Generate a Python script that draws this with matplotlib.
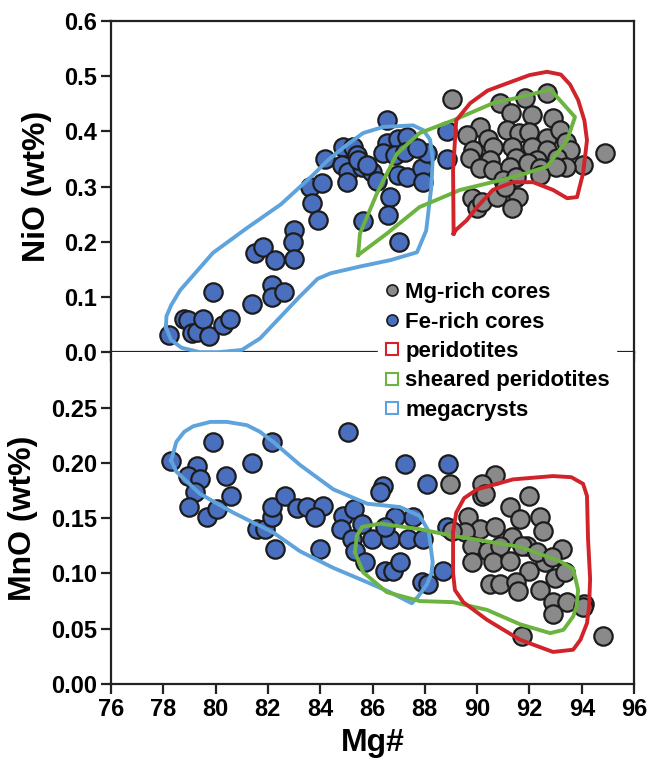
import matplotlib.pyplot as plt
from matplotlib.lines import Line2D

plt.rcParams['font.family'] = ['Liberation Sans', 'DejaVu Sans']
plt.rcParams['font.weight'] = 'bold'

# NiO panel - Fe-rich cores (blue)
ni_fe_x = [78.2, 78.8, 78.95, 79.1, 79.3, 79.5, 79.75, 79.9, 80.3, 80.55, 81.4, 81.5, 81.8,
           82.15, 82.15, 82.27, 82.6, 83.0, 82.97, 83.0, 83.6, 83.7, 83.9, 84.05, 84.2,
           86.55, 88.85, 84.87, 85.25, 85.4, 84.83, 85.06, 85.6, 85.98, 85.02, 86.17, 86.67,
           86.6, 85.64, 87.0, 86.55, 86.4, 86.97, 87.3, 86.86, 87.24, 86.97, 87.3, 87.9,
           87.93, 88.1, 87.7, 88.85, 85.45, 85.8]
ni_fe_y = [0.031, 0.061, 0.058, 0.034, 0.036, 0.06, 0.029, 0.109, 0.049, 0.061, 0.088, 0.179, 0.19,
           0.121, 0.1, 0.167, 0.109, 0.222, 0.2, 0.168, 0.3, 0.27, 0.239, 0.306, 0.35,
           0.42, 0.40, 0.372, 0.372, 0.357, 0.339, 0.326, 0.335, 0.326, 0.308, 0.31, 0.281,
           0.248, 0.237, 0.2, 0.379, 0.36, 0.386, 0.39, 0.357, 0.363, 0.321, 0.317, 0.333,
           0.308, 0.36, 0.37, 0.35, 0.348, 0.339]

# NiO panel - Mg-rich cores (grey)
ni_mg_x = [89.04, 94.9, 94.05, 90.88, 91.83, 92.67, 91.3, 92.1, 92.9, 90.1, 89.6, 90.4,
           91.15, 91.6, 92.0, 92.67, 93.17, 93.4, 93.55, 89.85, 90.6, 91.33, 92.1, 92.67,
           89.73, 90.5, 91.5, 92.3, 93.05, 93.4, 90.1, 90.6, 91.26, 91.95, 92.4, 93.0,
           92.4, 91.0, 91.5, 89.8, 89.99, 90.2, 90.75, 91.55, 91.33, 91.07]
ni_mg_y = [0.458, 0.36, 0.339, 0.451, 0.46, 0.469, 0.433, 0.43, 0.424, 0.408, 0.393, 0.387,
           0.402, 0.397, 0.399, 0.388, 0.402, 0.381, 0.366, 0.366, 0.372, 0.372, 0.372, 0.366,
           0.352, 0.348, 0.352, 0.348, 0.352, 0.335, 0.333, 0.33, 0.335, 0.342, 0.333, 0.335,
           0.321, 0.312, 0.317, 0.279, 0.261, 0.272, 0.281, 0.281, 0.261, 0.299]

# MnO panel - Fe-rich cores (blue)
mn_fe_x = [78.3, 79.9, 79.3, 78.95, 79.4, 80.4, 79.2, 79.0, 79.67, 80.05, 80.6, 81.4, 82.15,
           81.58, 81.9, 82.15, 82.15, 82.65, 83.1, 82.27,
           85.06, 87.24, 88.9, 88.08, 86.4, 86.29, 83.5, 84.1, 83.8, 84.87, 85.3, 85.6, 84.8,
           85.2, 85.98, 86.67, 87.35, 87.93, 87.55, 86.86, 86.48, 84.0, 85.33, 85.7, 86.48,
           86.78, 87.05, 88.7, 87.9, 88.12, 88.85]
mn_fe_y = [0.202, 0.219, 0.197, 0.188, 0.185, 0.188, 0.174, 0.16, 0.151, 0.158, 0.17, 0.2, 0.219,
           0.14, 0.14, 0.151, 0.16, 0.17, 0.159, 0.122,
           0.228, 0.199, 0.199, 0.181, 0.179, 0.174, 0.16, 0.161, 0.151, 0.152, 0.158, 0.145, 0.14,
           0.131, 0.131, 0.131, 0.131, 0.131, 0.151, 0.151, 0.142, 0.122, 0.12, 0.11, 0.102,
           0.102, 0.11, 0.102, 0.092, 0.09, 0.142]

# MnO panel - Mg-rich cores (grey)
mn_mg_x = [88.96, 90.7, 90.2, 90.2, 92.0, 89.65, 91.26, 92.4, 90.1, 91.64, 90.68, 92.52,
           89.54, 91.33, 89.8, 90.4, 90.88, 91.9, 93.25, 89.8, 90.6, 91.26, 92.0, 92.6,
           92.98, 93.36, 90.5, 90.88, 91.5, 92.4, 91.56, 92.9, 93.44, 94.1, 92.9, 91.7,
           92.3, 92.87, 91.7, 94.8, 90.3, 94.05, 89.04]
mn_mg_y = [0.181, 0.189, 0.181, 0.17, 0.17, 0.151, 0.16, 0.151, 0.14, 0.149, 0.142, 0.138,
           0.137, 0.133, 0.125, 0.12, 0.125, 0.125, 0.122, 0.11, 0.11, 0.111, 0.102, 0.11,
           0.096, 0.101, 0.09, 0.09, 0.092, 0.085, 0.084, 0.074, 0.074, 0.072, 0.063, 0.125,
           0.119, 0.115, 0.043, 0.043, 0.172, 0.07, 0.138]

# field outlines, NiO panel
ni_mega_x = [78.1, 78.3, 78.7, 79.4, 80.1, 81.0, 81.7, 82.4, 83.2, 83.9, 84.4, 85.5, 86.7,
             87.7, 88.05, 88.25, 88.3, 88.2, 87.95, 87.55, 86.4, 85.64, 85.0, 84.3, 83.7,
             82.5, 81.2, 79.9, 78.64, 78.3, 78.12, 78.1]
ni_mega_y = [0.045, 0.022, 0.008, 0.0, 0.0, 0.004, 0.025, 0.06, 0.1, 0.133, 0.143, 0.155, 0.167,
             0.181, 0.22, 0.30, 0.35, 0.385, 0.402, 0.411, 0.408, 0.397, 0.375, 0.348, 0.32,
             0.268, 0.225, 0.18, 0.112, 0.085, 0.065, 0.045]
ni_sheared_x = [85.45, 85.52, 86.17, 86.94, 87.8, 89.08, 90.6, 91.64, 92.8, 93.74, 93.44,
                92.67, 91.37, 89.35, 87.8, 86.55, 85.45]
ni_sheared_y = [0.176, 0.215, 0.288, 0.36, 0.397, 0.42, 0.451, 0.462, 0.476, 0.426, 0.384,
                0.336, 0.317, 0.294, 0.263, 0.215, 0.176]
ni_perid_x = [89.1, 89.08, 89.2, 89.73, 90.4, 91.14, 92.0, 92.67, 93.2, 93.55, 93.86, 94.1,
              94.2, 94.05, 93.82, 93.44, 92.9, 92.14, 91.37, 90.6, 90.0, 89.6, 89.2, 89.1]
ni_perid_y = [0.215, 0.33, 0.42, 0.451, 0.474, 0.487, 0.502, 0.508, 0.503, 0.485, 0.457, 0.42,
              0.384, 0.324, 0.281, 0.279, 0.294, 0.308, 0.308, 0.294, 0.263, 0.239, 0.222, 0.215]

# field outlines, MnO panel
mn_mega_x = [78.3, 78.5, 78.8, 79.14, 79.8, 80.43, 81.2, 81.7, 82.2, 83.23, 84.5, 85.8, 87.05,
             87.8, 88.15, 88.3, 88.25, 88.08, 87.74, 87.5, 86.67, 85.8, 84.5, 83.23, 82.2,
             80.67, 79.4, 78.5, 78.3]
mn_mega_y = [0.202, 0.219, 0.228, 0.233, 0.237, 0.237, 0.234, 0.228, 0.219, 0.198, 0.176,
             0.163, 0.16, 0.152, 0.138, 0.11, 0.1, 0.09, 0.079, 0.073, 0.083, 0.092, 0.105,
             0.12, 0.137, 0.155, 0.172, 0.192, 0.202]
mn_sheared_x = [85.33, 85.4, 85.6, 86.29, 87.8, 89.08, 91.64, 93.17, 93.67, 93.86, 93.8,
                93.67, 93.3, 92.79, 91.64, 90.38, 89.08, 87.8, 86.55, 85.64, 85.33]
mn_sheared_y = [0.119, 0.134, 0.142, 0.145, 0.14, 0.134, 0.124, 0.111, 0.104, 0.085, 0.07,
                0.061, 0.049, 0.046, 0.054, 0.067, 0.074, 0.075, 0.083, 0.101, 0.119]
mn_perid_x = [89.08, 89.2, 89.5, 90.0, 91.37, 92.9, 93.6, 94.05, 94.2, 94.24, 94.32, 94.28,
              94.2, 93.95, 93.67, 92.9, 91.64, 90.38, 89.47, 89.15, 89.08, 89.08]
mn_perid_y = [0.137, 0.155, 0.168, 0.176, 0.185, 0.188, 0.187, 0.181, 0.17, 0.131, 0.095,
              0.07, 0.055, 0.04, 0.031, 0.029, 0.04, 0.058, 0.074, 0.085, 0.1, 0.137]

blue = '#4a6fbe'
grey = '#8a8a8a'
edge = '#1c1c1c'
red = '#d1232a'
green = '#6cb33f'
lblue = '#5fa3dd'

fig = plt.figure(figsize=(6.49, 7.64), dpi=100)
ax1 = fig.add_axes([0.171, 0.539, 0.806, 0.4335])
ax2 = fig.add_axes([0.171, 0.1047, 0.806, 0.4343], sharex=ax1)

ms = 175
for ax, fx, fy, mx, my in [(ax1, ni_fe_x, ni_fe_y, ni_mg_x, ni_mg_y),
                           (ax2, mn_fe_x, mn_fe_y, mn_mg_x, mn_mg_y)]:
    ax.scatter(fx, fy, s=ms, c=blue, edgecolors=edge, linewidths=1.6, zorder=3)
    ax.scatter(mx, my, s=ms, c=grey, edgecolors=edge, linewidths=1.6, zorder=3)

lw = 2.8
ax1.plot(ni_mega_x, ni_mega_y, color=lblue, lw=lw, zorder=4)
ax1.plot(ni_sheared_x, ni_sheared_y, color=green, lw=lw, zorder=4)
ax1.plot(ni_perid_x, ni_perid_y, color=red, lw=lw, zorder=4)
ax2.plot(mn_mega_x, mn_mega_y, color=lblue, lw=lw, zorder=4)
ax2.plot(mn_sheared_x, mn_sheared_y, color=green, lw=lw, zorder=4)
ax2.plot(mn_perid_x, mn_perid_y, color=red, lw=lw, zorder=4)

ax1.set_xlim(76, 96)
ax1.set_ylim(0, 0.6)
ax1.set_yticks([0.0, 0.1, 0.2, 0.3, 0.4, 0.5, 0.6])
ax1.set_yticklabels(['0.0', '0.1', '0.2', '0.3', '0.4', '0.5', '0.6'])
ax2.set_ylim(0, 0.30)
ax2.set_yticks([0.0, 0.05, 0.10, 0.15, 0.20, 0.25])
ax2.set_yticklabels(['0.00', '0.05', '0.10', '0.15', '0.20', '0.25'])
ax2.set_xticks(range(76, 97, 2))

for ax in (ax1, ax2):
    for sp in ax.spines.values():
        sp.set_linewidth(1.6)
        sp.set_color('#222222')
    ax.tick_params(direction='out', length=7, width=1.6, labelsize=17, color='#222222', pad=3)
ax1.tick_params(labelbottom=False)
ax2.spines['top'].set_visible(False)

ax1.set_ylabel('NiO (wt%)', fontsize=23, fontweight='bold', labelpad=9)
ax2.set_ylabel('MnO (wt%)', fontsize=23, fontweight='bold', labelpad=9)
ax2.set_xlabel('Mg#', fontsize=23, fontweight='bold', labelpad=5)

handles = [
    Line2D([], [], ls='none', marker='o', ms=8, mfc=grey, mec=edge, mew=1.2),
    Line2D([], [], ls='none', marker='o', ms=8, mfc=blue, mec=edge, mew=1.2),
    Line2D([], [], ls='none', marker='s', ms=8, mfc='white', mec=red, mew=1.5),
    Line2D([], [], ls='none', marker='s', ms=8, mfc='white', mec=green, mew=1.5),
    Line2D([], [], ls='none', marker='s', ms=8, mfc='white', mec=lblue, mew=1.5),
]
labels = ['Mg-rich cores', 'Fe-rich cores', 'peridotites', 'sheared peridotites', 'megacrysts']
leg = fig.legend(handles, labels, loc='upper left', bbox_to_anchor=(0.566, 0.654),
                 frameon=True, fancybox=False, edgecolor='white', framealpha=1,
                 prop={'size': 16, 'weight': 'bold'}, handlelength=0.6,
                 handletextpad=0.3, labelspacing=0.38, borderpad=0.3)
leg.set_zorder(10)

fig.savefig('out.png', dpi=100)
